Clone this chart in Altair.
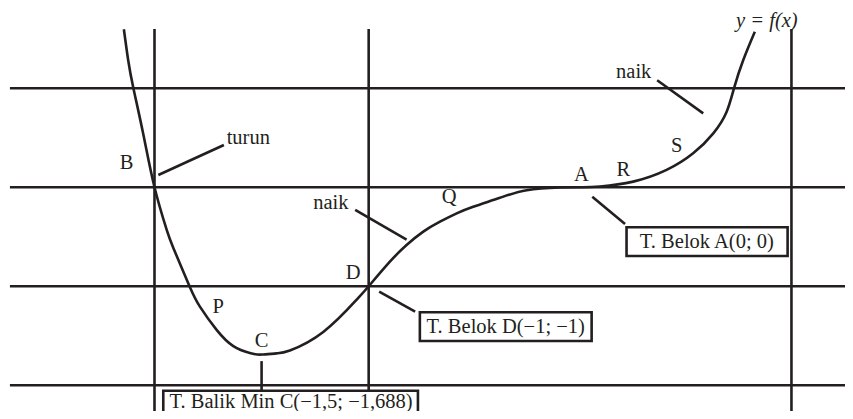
import altair as alt
import pandas as pd

INK = "#231f20"
FONT = "Liberation Serif, 'DejaVu Serif', 'Times New Roman', serif"
X_MIN, X_MAX = -2.684, 1.224
Y_MIN, Y_MAX = -2.260, 1.811
W, H = 837, 403

# curve y = f(x)
curve_x = [-2.143, -2.123, -2.099, -2.052, -2.0, -1.943, -1.912, -1.837, -1.788, -1.710,
           -1.632, -1.555, -1.5, -1.430, -1.368, -1.212, -1.057, -1.0, -0.901, -0.823,
           -0.745, -0.667, -0.589, -0.512, -0.387, -0.262, -0.107, 0.0, 0.080, 0.235,
           0.391, 0.515, 0.609, 0.671, 0.707, 0.749, 0.803]
curve_y = [1.596, 1.286, 1.006, 0.533, 0.0, -0.431, -0.613, -0.997, -1.206, -1.441,
           -1.605, -1.675, -1.690, -1.678, -1.649, -1.462, -1.138, -1.0, -0.752, -0.583,
           -0.448, -0.347, -0.263, -0.196, -0.106, -0.030, -0.003, 0.0, 0.008, 0.057,
           0.175, 0.343, 0.545, 0.761, 1.010, 1.286, 1.572]

# grid lines
grid_y = [1, 0, -1, -2]
grid_x = [-2, -1, 0.974]
grid_left = -2.675
grid_top = 1.599

# leader lines
leader_x1 = [-1.982, -1.063, 0.347, 0.044, -0.951, -1.5]
leader_y1 = [0.124, -0.229, 1.081, -0.095, -1.055, -1.756]
leader_x2 = [-1.676, -0.823, 0.562, 0.197, -0.783, -1.5]
leader_y2 = [0.427, -0.529, 0.746, -0.371, -1.257, -2.055]

# boxed notes
box_text = ["T. Belok A(0; 0)", "T. Belok D(−1; −1)", "T. Balik Min C(−1,5; −1,688)"]
box_x1 = [0.204, -0.761, -1.959]
box_x2 = [0.956, 0.041, -0.770]
box_y1 = [-0.404, -1.263, -2.055]
box_y2 = [-0.694, -1.553, -2.6]
box_tx = [0.579, -0.360, -1.362]
box_ty = [-0.548, -1.408, -2.165]

# point letters
pt_text = ["B", "P", "C", "D", "Q", "A", "R", "S"]
pt_x = [-2.130, -1.702, -1.5, -1.072, -0.624, -0.007, 0.189, 0.438]
pt_y = [0.242, -1.206, -1.549, -0.869, -0.095, 0.124, 0.175, 0.417]

# words
word_text = ["turun", "naik", "naik"]
word_x = [-1.663, -1.259, 0.155]
word_y = [0.437, -0.219, 1.107]

title_text = ["y = f(x)"]
title_x = [0.859]
title_y = [1.616]

xs = alt.Scale(domain=[X_MIN, X_MAX], nice=False, zero=False)
ys = alt.Scale(domain=[Y_MIN, Y_MAX], nice=False, zero=False)


def X(f):
    return alt.X(f, type="quantitative", scale=xs, axis=None)


def Y(f):
    return alt.Y(f, type="quantitative", scale=ys, axis=None)


hl = pd.DataFrame({"y": grid_y, "x": [grid_left] * len(grid_y), "x2": [X_MAX] * len(grid_y)})
vl = pd.DataFrame({"x": grid_x, "y": [grid_top] * len(grid_x), "y2": [Y_MIN] * len(grid_x)})
cv = pd.DataFrame({"x": curve_x, "y": curve_y})
ld = pd.DataFrame({"x": leader_x1, "y": leader_y1, "x2": leader_x2, "y2": leader_y2})
bx = pd.DataFrame({"t": box_text, "x": box_x1, "x2": box_x2, "y": box_y1, "y2": box_y2,
                   "tx": box_tx, "ty": box_ty})
pt = pd.DataFrame({"t": pt_text, "x": pt_x, "y": pt_y})
wd = pd.DataFrame({"t": word_text, "x": word_x, "y": word_y})
tt = pd.DataFrame({"t": title_text, "x": title_x, "y": title_y})

hlines = alt.Chart(hl).mark_rule(color=INK, strokeWidth=2.6).encode(x=X("x"), x2="x2", y=Y("y"))
vlines = alt.Chart(vl).mark_rule(color=INK, strokeWidth=2.6).encode(x=X("x"), y=Y("y"), y2="y2")
curve = alt.Chart(cv).mark_line(color=INK, strokeWidth=2.6, interpolate="natural", clip=True).encode(
    x=X("x"), y=Y("y"), order="x:Q")
leaders = alt.Chart(ld).mark_rule(color=INK, strokeWidth=2.6).encode(x=X("x"), y=Y("y"), x2="x2", y2="y2")
boxes = alt.Chart(bx).mark_rect(fill="white", stroke=INK, strokeWidth=2.6, clip=True).encode(
    x=X("x"), x2="x2", y=Y("y"), y2="y2")
box_labels = alt.Chart(bx).mark_text(font=FONT, fontSize=20.5, color=INK, align="center",
                                     baseline="middle").encode(x=X("tx"), y=Y("ty"), text="t:N")
points = alt.Chart(pt).mark_text(font=FONT, fontSize=20.5, color=INK, align="center",
                                 baseline="middle").encode(x=X("x"), y=Y("y"), text="t:N")
words = alt.Chart(wd).mark_text(font=FONT, fontSize=20.5, color=INK, align="left",
                                baseline="alphabetic").encode(x=X("x"), y=Y("y"), text="t:N")
title = alt.Chart(tt).mark_text(font=FONT, fontSize=20.5, color=INK, align="center", fontStyle="italic",
                                baseline="alphabetic").encode(x=X("x"), y=Y("y"), text="t:N")

chart = alt.layer(hlines, vlines, curve, leaders, boxes, box_labels, points, words, title).properties(
    width=W, height=H, padding=0, autosize=alt.AutoSizeParams(type="none"),
    background="white"
).configure_view(stroke=None)

chart.save("out.html", embed_options={"renderer": "svg", "actions": False})
